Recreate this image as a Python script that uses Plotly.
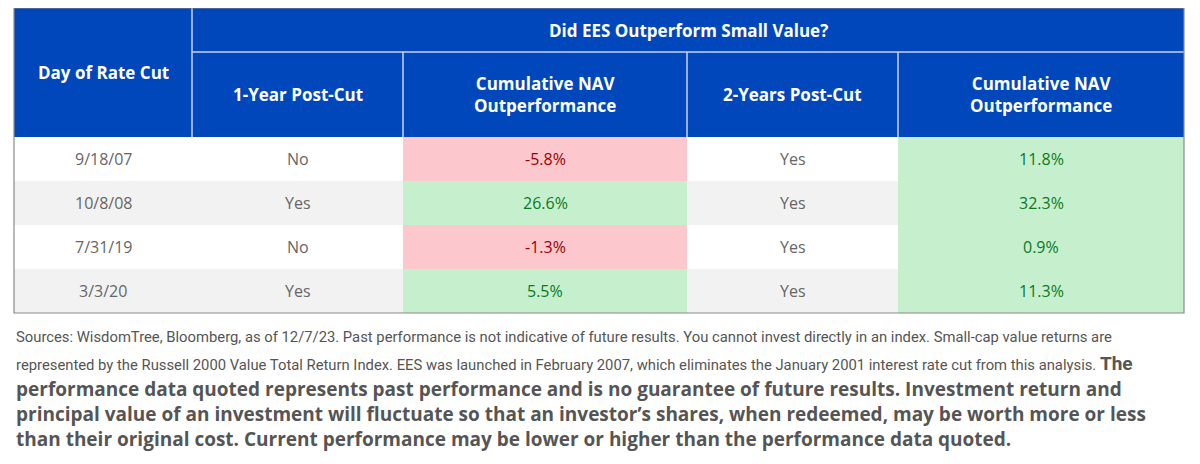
import plotly.graph_objects as go

dates = ["9/18/07", "10/8/08", "7/31/19", "3/3/20"]
one_year = ["No", "Yes", "No", "Yes"]
one_year_nav = [-5.8, 26.6, -1.3, 5.5]
two_year = ["Yes", "Yes", "Yes", "Yes"]
two_year_nav = [11.8, 32.3, 0.9, 11.3]
col_headers = ["1-Year Post-Cut", "Cumulative NAV<br>Outperformance", "2-Years Post-Cut", "Cumulative NAV<br>Outperformance"]
title = "Did EES Outperform Small Value?"
first_header = "Day of Rate Cut"

col_edges = [14, 192, 403, 687, 898, 1184]
top, h1, h2 = 8, 52, 137
row_h = 44

BLUE = "#0047bb"
PINK, RED = "#fcc7cd", "#9c0006"
GREEN, DGREEN = "#c6efce", "#0a7a1e"
GREY = "#f2f2f2"

shapes, ann = [], []
def rect(x0, y0, x1, y1, fill):
    shapes.append(dict(type="rect", xref="x", yref="y", x0=x0, x1=x1, y0=y0, y1=y1,
                       fillcolor=fill, line=dict(width=0), layer="below"))
def text(x, y, s, color, size=16, bold=False, family="Open Sans"):
    ann.append(dict(x=x, y=y, xref="x", yref="y", text=f"<b>{s}</b>" if bold else s, showarrow=False,
                    font=dict(color=color, size=size, family=family)))

rect(col_edges[0], top, col_edges[-1], h2, BLUE)
shapes.append(dict(type="line", x0=col_edges[1], x1=col_edges[-1], y0=h1, y1=h1, line=dict(color="#c8d4ee", width=1.5)))
for xe in col_edges[1:-1]:
    shapes.append(dict(type="line", x0=xe, x1=xe, y0=(top if xe == col_edges[1] else h1), y1=h2, line=dict(color="#c8d4ee", width=1.5)))
text((col_edges[0]+col_edges[1])/2, (top+h2)/2, first_header, "white", 17, True)
text((col_edges[1]+col_edges[-1])/2, (top+h1)/2, title, "white", 17, True)
for i, hdr in enumerate(col_headers):
    text((col_edges[i+1]+col_edges[i+2])/2, (h1+h2)/2, hdr, "white", 17, True)

for r in range(len(dates)):
    y0 = h2 + r*row_h; y1 = y0 + row_h; yc = (y0+y1)/2
    base = GREY if r % 2 else "white"
    rect(col_edges[0], y0, col_edges[-1], y1, base)
    vals = [dates[r], one_year[r], f"{one_year_nav[r]:.1f}%", two_year[r], f"{two_year_nav[r]:.1f}%"]
    for c, v in enumerate(vals):
        color = "#666666"
        if c in (2, 4):
            num = one_year_nav[r] if c == 2 else two_year_nav[r]
            rect(col_edges[c], y0, col_edges[c+1], y1, GREEN if num > 0 else PINK)
            color = DGREEN if num > 0 else RED
        text((col_edges[c]+col_edges[c+1])/2, yc, v, color, 16)
shapes.append(dict(type="rect", x0=col_edges[0], x1=col_edges[-1], y0=top, y1=h2+4*row_h,
                   line=dict(color="#8a8a8a", width=1.2), fillcolor="rgba(0,0,0,0)"))

foot_small = [
    "Sources: WisdomTree, Bloomberg, as of 12/7/23. Past performance is not indicative of future results. You cannot invest directly in an index. Small-cap value returns are",
    "represented by the Russell 2000 Value Total Return Index. EES was launched in February 2007, which eliminates the January 2001 interest rate cut from this analysis. <span style='font-size:19px'><b>The</b></span>",
]
foot_big = [
    "performance data quoted represents past performance and is no guarantee of future results. Investment return and",
    "principal value of an investment will fluctuate so that an investor’s shares, when redeemed, may be worth more or less",
    "than their original cost. Current performance may be lower or higher than the performance data quoted.",
]
for i, s in enumerate(foot_small):
    ann.append(dict(x=14, y=337+i*26, xref="x", yref="y", xanchor="left", text=s, showarrow=False,
                    font=dict(size=14.8, color="#555555", family="Roboto")))
for i, s in enumerate(foot_big):
    ann.append(dict(x=14, y=389+i*25, xref="x", yref="y", xanchor="left", text=f"<b>{s}</b>", showarrow=False,
                    font=dict(size=19, color="#555555", family="Open Sans")))

fig = go.Figure()
fig.update_layout(width=1200, height=464, margin=dict(l=0, r=0, t=0, b=0), plot_bgcolor="white", paper_bgcolor="white",
                  shapes=shapes, annotations=ann,
                  xaxis=dict(range=[8, 1208], visible=False, fixedrange=True),
                  yaxis=dict(range=[472, 8], visible=False, fixedrange=True))
fig.write_html("out.html")
